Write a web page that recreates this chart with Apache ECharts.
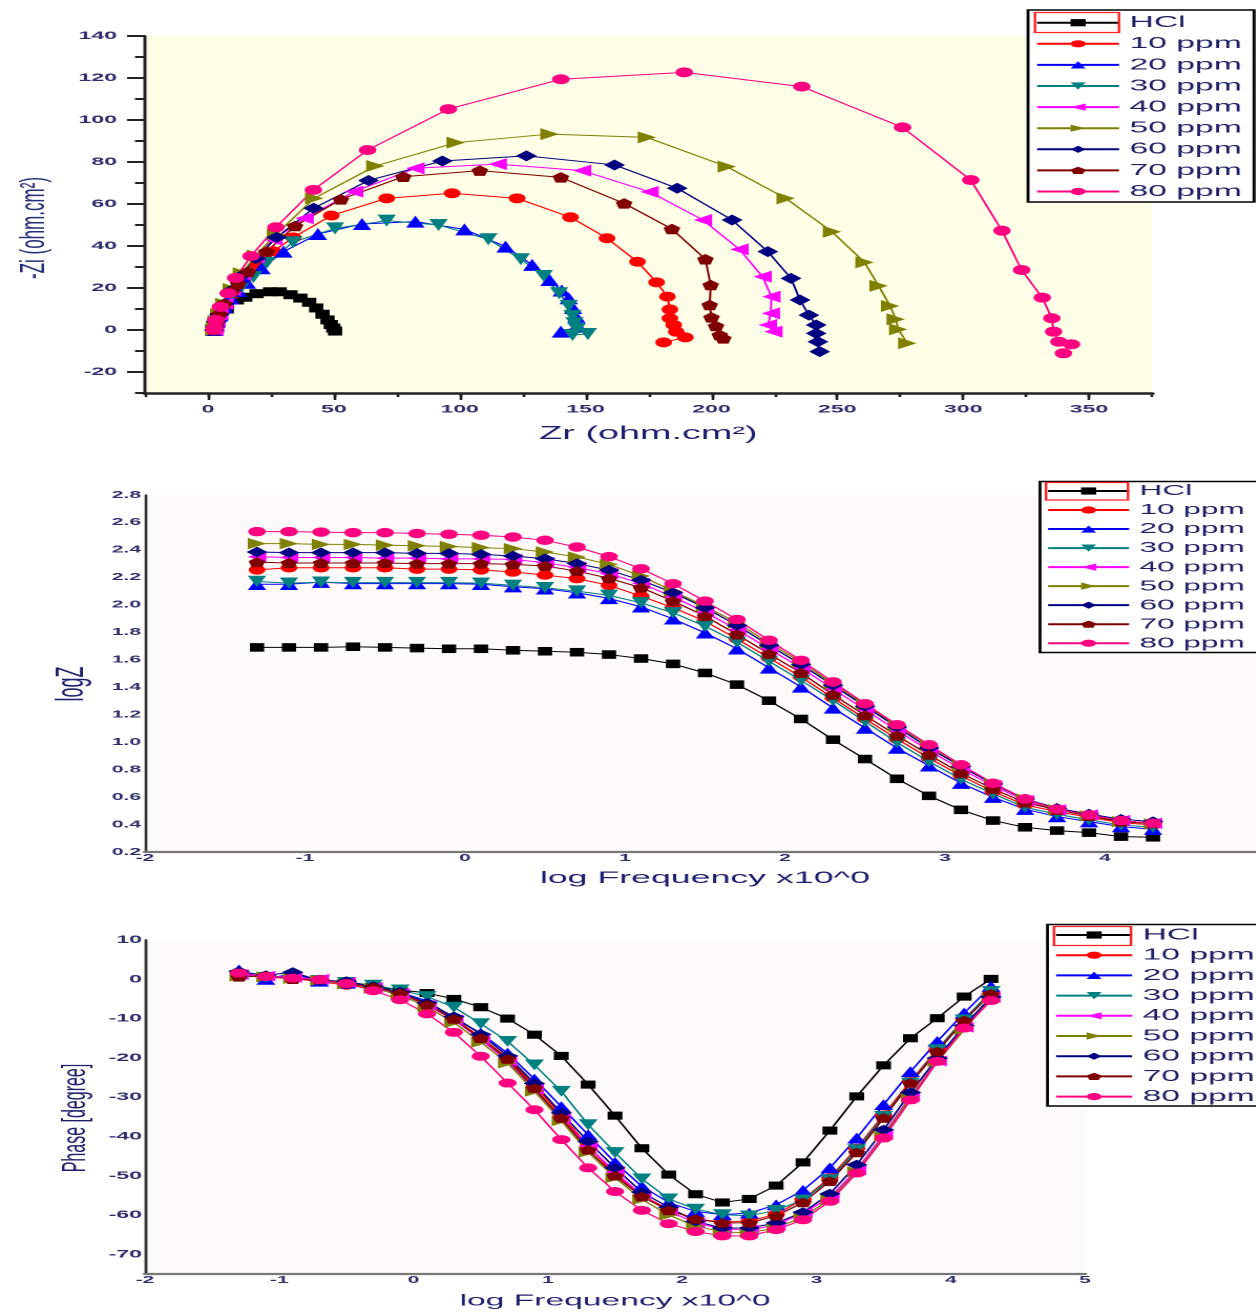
<!DOCTYPE html>
<html>
<head>
<meta charset="utf-8">
<title>EIS plots</title>
<script src="https://cdn.jsdelivr.net/npm/echarts@6.0.0/dist/echarts.min.js"></script>
<style>
html,body{margin:0;padding:0;background:#ffffff;overflow:hidden;}
#chart{height:1314px;transform-origin:0 0;}
</style>
</head>
<body>
<div id="chart"></div>
<script>
// ================= DATA =================
const seriesNames = ['HCl','10 ppm','20 ppm','30 ppm','40 ppm','50 ppm','60 ppm','70 ppm','80 ppm'];

// Nyquist: [Zr, -Zi] (ohm.cm2)
const nyqHCl = [[2.5,0],[2.8,1.5],[3.5,3.5],[5,6.5],[7.5,10],[11.5,14.3],[14.8,15.6],[19.3,17.3],[24.7,18.2],[28.5,18.2],[32.8,16.8],[36.7,15.2],[40.2,13.2],[43,10.5],[45.5,7.5],[47.5,4.8],[48.8,2.6],[49.8,0.9],[50.5,-0.5]];
const nyq10 = [[2.5,0],[2.8,1.5],[3.4,4],[4.5,7],[6.5,11.5],[9.5,17],[14,24.5],[20,31],[26,37.5],[33.9,44.1],[49,54.5],[71,62.7],[97,65.1],[122.8,62.7],[144,53.7],[158.5,43.7],[170.6,32.5],[178.2,22.7],[182.5,15.9],[183.5,9.8],[183.5,5.6],[185,2.4],[186,-0.8],[189.6,-3.5],[181,-5.9]];
const nyq20 = [[2.5,0],[2.8,1.5],[3.4,4],[4.5,7],[6.5,11],[9,15],[12,18.5],[15.5,22.5],[21.3,29.4],[30,37.3],[43.7,45.7],[61.2,50.5],[82.4,51.6],[101.9,47.9],[118.2,39.7],[128.8,31],[135.7,23.8],[140.5,18.8],[143.3,15.1],[145,10.5],[146.3,6.3],[147.1,1.6],[140.2,-0.8]];
const nyq30 = [[2.5,0],[2.8,1.5],[3.4,4],[4.5,7],[6.5,11.5],[9.5,16.5],[12.7,19.5],[18,25.2],[23.3,31.9],[33.8,41.8],[50.5,48.4],[71,52.1],[91.6,50],[111.4,43.2],[124.3,33.7],[133.4,25.7],[139.5,17.5],[143.3,11.4],[144.8,6.7],[145.6,3.2],[146.5,0.5],[150.9,-1.9],[144.8,-2.4]];
const nyq40 = [[2.5,0],[2.8,1.5],[3.4,4],[4.5,7.5],[6.5,12.5],[9.5,19],[13.5,26.5],[19,34.5],[26,43],[38.4,53.2],[58.1,65.9],[82.4,77],[115.1,79],[148.6,75.9],[175.4,65.8],[196.6,52.4],[211.1,38.4],[220.3,25.4],[223.8,15.9],[223.6,7.9],[222.4,2.4],[224.6,-0.8]];
const nyq50 = [[2.5,0],[2.8,1.5],[3.4,4],[4.5,7.5],[6.5,12.5],[9.5,19.5],[13.5,27],[19,35.5],[27,45.5],[42.2,62.7],[66.5,78.1],[98.4,89.2],[135.7,93.3],[174.4,91.7],[206.1,77.8],[229.5,62.7],[247.9,46.8],[260.8,32.2],[266.4,21],[271,11.4],[273.2,5.1],[274.2,0.3],[277.8,-6.3]];
const nyq60 = [[2.5,0],[2.8,1.5],[3.4,4],[4.5,7.5],[6.5,12.5],[9.5,19],[13.5,26],[19,34],[27.3,44.1],[42,58],[63.8,71.2],[93.1,80.5],[126.5,82.9],[161.5,78.6],[186.4,67.5],[208.2,52.4],[222.4,37.3],[231.6,24.6],[235.2,14.3],[238.7,7.1],[241.6,2.4],[241.6,-1.6],[242.3,-5.6],[243,-10.3]];
const nyq70 = [[2.5,0],[2.8,1.5],[3.4,4],[4.5,7.5],[6.5,12.5],[9.5,18.5],[12,22],[16,27.8],[23.3,37.3],[34.6,49.5],[52.8,62.2],[77.6,73],[108,75.9],[140.2,72.7],[165.3,60.3],[184.3,48.1],[197.6,33.7],[199.7,21.4],[199.3,11.9],[200,6],[201.8,1.9],[203.3,-2.4],[204.7,-4]];
const nyq80 = [[2.5,0],[2.6,1],[3.1,4.8],[4.9,11],[8,17.5],[11,24.8],[17.1,35.2],[27,48.9],[41.9,66.7],[63.4,85.7],[95.5,105.2],[140.2,119.4],[189.2,122.7],[235.9,115.9],[275.9,96.5],[303,71.4],[315.4,47.3],[323.2,28.6],[331.4,15.4],[335.2,5.6],[335.9,-0.8],[338,-5.6],[343,-6.8],[339.8,-11.1]];

// Bode: log frequency
const logFreq = [-1.3,-1.1,-0.9,-0.7,-0.5,-0.3,-0.1,0.1,0.3,0.5,0.7,0.9,1.1,1.3,1.5,1.7,1.9,2.1,2.3,2.5,2.7,2.9,3.1,3.3,3.5,3.7,3.9,4.1,4.3];

// log |Z|
const logZHCl = [1.69,1.69,1.69,1.695,1.69,1.685,1.68,1.68,1.669,1.662,1.655,1.638,1.609,1.570,1.504,1.419,1.302,1.169,1.018,0.877,0.733,0.609,0.507,0.429,0.380,0.356,0.341,0.312,0.307];
const logZ10 = [2.255,2.27,2.27,2.27,2.27,2.26,2.26,2.255,2.239,2.217,2.191,2.142,2.064,1.979,1.881,1.752,1.614,1.475,1.322,1.171,1.023,0.884,0.755,0.640,0.543,0.494,0.453,0.414,0.397];
const logZ20 = [2.15,2.15,2.165,2.155,2.155,2.155,2.155,2.15,2.132,2.117,2.088,2.047,1.986,1.898,1.796,1.680,1.541,1.402,1.249,1.103,0.957,0.828,0.701,0.599,0.512,0.458,0.421,0.385,0.366];
const logZ30 = [2.17,2.158,2.165,2.162,2.162,2.162,2.162,2.158,2.142,2.125,2.100,2.069,2.015,1.942,1.844,1.728,1.589,1.450,1.304,1.151,0.998,0.859,0.731,0.623,0.526,0.475,0.434,0.397,0.380];
const logZ40 = [2.35,2.345,2.345,2.345,2.34,2.34,2.335,2.335,2.331,2.307,2.271,2.227,2.156,2.059,1.947,1.820,1.680,1.541,1.388,1.236,1.085,0.939,0.804,0.682,0.574,0.507,0.470,0.429,0.409];
const logZ50 = [2.446,2.446,2.44,2.44,2.435,2.43,2.425,2.417,2.409,2.385,2.348,2.295,2.210,2.100,1.990,1.869,1.723,1.582,1.426,1.273,1.120,0.974,0.828,0.696,0.585,0.507,0.463,0.421,0.404];
const logZ60 = [2.385,2.38,2.38,2.38,2.38,2.375,2.375,2.368,2.356,2.336,2.300,2.253,2.180,2.088,1.979,1.850,1.706,1.565,1.414,1.261,1.110,0.957,0.823,0.696,0.587,0.519,0.477,0.439,0.421];
const logZ70 = [2.31,2.305,2.305,2.305,2.305,2.30,2.30,2.30,2.295,2.283,2.246,2.193,2.125,2.027,1.918,1.784,1.643,1.504,1.346,1.195,1.047,0.908,0.774,0.660,0.560,0.507,0.463,0.421,0.409];
const logZ80 = [2.533,2.533,2.53,2.526,2.526,2.52,2.514,2.507,2.494,2.470,2.421,2.351,2.263,2.154,2.027,1.893,1.742,1.596,1.439,1.280,1.127,0.981,0.835,0.701,0.587,0.512,0.470,0.429,0.409];

// Phase (degree)
const phaseHCl = [1.0,0.8,0.5,0,-0.8,-1.8,-2.7,-3.5,-5.0,-7.1,-10.0,-14.1,-19.5,-26.8,-34.7,-43.0,-49.7,-54.7,-56.8,-55.9,-52.5,-46.6,-38.5,-29.8,-21.9,-15.0,-9.9,-4.4,0.1];
const phase10 = [1.0,0.5,0.2,-0.6,-1.5,-2.2,-3.6,-6.3,-10,-14.8,-20,-27,-34.5,-42.5,-49.5,-55,-58.5,-61,-61.8,-61.5,-59.8,-56,-50.5,-43,-34.5,-26,-17.8,-10.2,-3.3];
const phase20 = [2.4,0.0,1.5,-0.5,-1.0,-2.0,-3.3,-5.5,-9.9,-13.7,-18.8,-25.4,-32.4,-39.6,-46.6,-52.7,-56.8,-59.1,-59.9,-59.5,-57.4,-53.7,-48.0,-40.4,-31.9,-23.5,-15.8,-8.6,-1.8];
const phase30 = [1.0,0.5,0.3,-0.3,-0.8,-1.5,-2.7,-4.4,-7.1,-11.3,-15.8,-21.8,-28.5,-37.0,-44.1,-50.8,-55.9,-58.5,-59.9,-60.2,-58.8,-56.1,-51.0,-43.4,-34.9,-26.4,-17.9,-10.3,-3.1];
const phase40 = [1.2,0.8,0.5,0,-0.8,-2.1,-3.6,-6.6,-10.3,-15.3,-20.8,-28.0,-35.5,-42.5,-49,-55,-59,-62,-63.5,-63.8,-62.5,-59.5,-55.5,-48.5,-39.5,-29.8,-20.8,-12.2,-4.6];
const phase50 = [0.8,0.6,0.2,-0.3,-1.2,-2.3,-4,-7,-11,-16,-21.3,-28.5,-36,-44,-50.5,-56,-60,-62.8,-64.3,-64.5,-63.3,-60.5,-56,-49,-40,-30,-21,-12.8,-4.8];
const phase60 = [2.0,1.0,1.8,-0.3,-0.5,-1.8,-3.2,-6.0,-9.5,-14.0,-19.5,-26.5,-34.0,-41.3,-48.0,-54.2,-58.0,-61.6,-63.3,-63.3,-62.0,-59.3,-54.6,-47.2,-38.3,-28.8,-20.1,-11.8,-4.5];
const phase70 = [0.6,0.9,0.0,-0.1,-1.0,-2.0,-3.5,-6.5,-10.1,-15.0,-20.3,-27.7,-35.3,-43.4,-50.0,-55.3,-58.8,-61.0,-62.0,-62.0,-60.2,-56.8,-51.4,-44.1,-35.3,-26.4,-18.4,-10.5,-3.7];
const phase80 = [1.6,0.7,0.3,-0.1,-1.1,-2.9,-5.2,-8.8,-13.5,-19.6,-26.4,-33.2,-40.8,-48.0,-54.0,-58.8,-62.2,-64.2,-65.3,-65.3,-63.7,-61.2,-56.5,-49.3,-40.4,-30.7,-20.9,-12.4,-5.4];

const nyqData = [nyqHCl,nyq10,nyq20,nyq30,nyq40,nyq50,nyq60,nyq70,nyq80];
const logZData = [logZHCl,logZ10,logZ20,logZ30,logZ40,logZ50,logZ60,logZ70,logZ80];
const phaseData = [phaseHCl,phase10,phase20,phase30,phase40,phase50,phase60,phase70,phase80];

// ================= STYLE =================
const colors = ['#000000','#FF0000','#0000FF','#008080','#FF00FF','#808000','#000080','#800000','#FF0080'];
const TRI_DOWN = 'path://M0,0L10,0L5,9Z';
const TRI_LEFT = 'path://M9,0L9,10L0,5Z';
const TRI_RIGHT = 'path://M0,0L9,5L0,10Z';
const PENT = 'path://M5,0L10,3.6L8.1,9.5L1.9,9.5L0,3.6Z';
const symbols = ['rect','circle','triangle',TRI_DOWN,TRI_LEFT,TRI_RIGHT,'diamond',PENT,'circle'];
const symScale = [[0.85,0.9],[1,1],[1.1,1.2],[1.1,1.2],[1.1,1.2],[1.1,1.2],[1.25,1.1],[1,1.05],[1.05,1]];

const SX = 2.1;                 // the reference figure is stretched horizontally
const W = 1256 / SX;
const X = v => v / SX;          // reference pixel x -> logical x

const dom = document.getElementById('chart');
dom.style.width = W + 'px';
dom.style.transform = 'scaleX(' + SX + ')';
const chart = echarts.init(dom, null, {renderer:'canvas', devicePixelRatio: 2});

const FONT = 'Liberation Sans';
const LBL = '#2d2d6d';
const TTL = '#1e1e6e';

function sz(i, base){ return [base[0]*symScale[i][0], base[1]*symScale[i][1]]; }

const series = [];
seriesNames.forEach((n,i)=>{
  series.push({type:'line', name:n, xAxisIndex:0, yAxisIndex:0, data:nyqData[i],
    symbol:symbols[i], symbolSize:sz(i,[8,10]), lineStyle:{color:colors[i], width:1},
    itemStyle:{color:colors[i]}, emphasis:{disabled:true}, animation:false});
});
seriesNames.forEach((n,i)=>{
  series.push({type:'line', name:n, xAxisIndex:3, yAxisIndex:3,
    data:logFreq.map((f,j)=>[f, logZData[i][j]]),
    symbol:symbols[i], symbolSize:sz(i,[8,9.5]), lineStyle:{color:colors[i], width:1},
    itemStyle:{color:colors[i]}, emphasis:{disabled:true}, animation:false});
});
seriesNames.forEach((n,i)=>{
  series.push({type:'line', name:n, xAxisIndex:4, yAxisIndex:4,
    data:logFreq.map((f,j)=>[f, phaseData[i][j]]),
    symbol:symbols[i], symbolSize:sz(i,[8.3,9]), lineStyle:{color:colors[i], width:1},
    itemStyle:{color:colors[i]}, emphasis:{disabled:true}, animation:false});
});

function legend(left, top, itemWidth, gap, fontSize){
  return {data:seriesNames, orient:'vertical', left:left, top:top, itemWidth:itemWidth, itemHeight:9,
    itemGap:gap, padding:0, selectedMode:false, z:20,
    textStyle:{fontFamily:FONT, fontSize:fontSize, color:'#1f1f66', lineHeight:16}};
}

const lblStyle = (size)=>({fontFamily:FONT, fontSize:size, fontWeight:'bold', color:LBL});
const hidden = (g)=>({gridIndex:g, type:'value', show:false, min:0, max:1});

const option = {
  animation:false,
  backgroundColor:'#ffffff',
  grid:[
    {left:X(145), top:36, width:X(1007), height:357, show:true, backgroundColor:'#FFFEE6', borderWidth:0, outerBoundsMode:'none'},
    {left:X(207.9), top:36, width:X(881.1), height:357, show:false, outerBoundsMode:'none'},
    {left:X(145), top:36, width:X(1007), height:336, show:false, outerBoundsMode:'none'},
    {left:X(145), top:495, width:X(1120), height:357, show:true, backgroundColor:'#FFFAFA', borderWidth:0, outerBoundsMode:'none'},
    {left:X(145), top:940, width:X(940), height:334, show:true, backgroundColor:'#FFFAFA', borderWidth:0, outerBoundsMode:'none'}
  ],
  xAxis:[
    {gridIndex:0, type:'value', min:-25, max:375, interval:25,
      axisLine:{show:true, onZero:false, lineStyle:{color:'#222', width:2.6}},
      axisTick:{show:true, length:4, lineStyle:{color:'#222', width:1.3}},
      axisLabel:{show:false}, splitLine:{show:false}},
    {gridIndex:1, type:'value', min:0, max:350, interval:50,
      axisLine:{show:false, onZero:false},
      axisTick:{show:true, length:7, lineStyle:{color:'#222', width:1.3}},
      axisLabel:Object.assign({margin:11}, lblStyle(11)), splitLine:{show:false},
      name:'Zr (ohm.cm²)', nameLocation:'middle', nameGap:32,
      nameTextStyle:{fontFamily:FONT, fontSize:18, color:TTL}},
    hidden(2),
    {gridIndex:3, type:'value', min:-2, max:5, interval:1,
      axisLine:{show:true, onZero:false, lineStyle:{color:'#777', width:2.3}},
      axisTick:{show:false}, axisLabel:Object.assign({margin:1}, lblStyle(10)), splitLine:{show:false},
      name:'log Frequency x10^0', nameLocation:'middle', nameGap:18,
      nameTextStyle:{fontFamily:FONT, fontSize:17, color:TTL}},
    {gridIndex:4, type:'value', min:-2, max:5, interval:1,
      axisLine:{show:true, onZero:false, lineStyle:{color:'#777', width:2.3}},
      axisTick:{show:false}, axisLabel:Object.assign({margin:1}, lblStyle(10)), splitLine:{show:false},
      name:'log Frequency x10^0', nameLocation:'middle', nameGap:19,
      nameTextStyle:{fontFamily:FONT, fontSize:16, color:TTL}}
  ],
  yAxis:[
    {gridIndex:0, type:'value', min:-30, max:140, interval:10,
      axisLine:{show:true, onZero:false, lineStyle:{color:'#222', width:1.5}},
      axisTick:{show:true, length:X(10), lineStyle:{color:'#222', width:2}},
      axisLabel:{show:false}, splitLine:{show:false}},
    hidden(1),
    {gridIndex:2, type:'value', min:-20, max:140, interval:20,
      axisLine:{show:false, onZero:false},
      axisTick:{show:true, length:X(18), lineStyle:{color:'#222', width:2}},
      axisLabel:Object.assign({margin:X(28)}, lblStyle(11)), splitLine:{show:false}},
    {gridIndex:3, type:'value', min:0.2, max:2.8, interval:0.2,
      axisLine:{show:true, onZero:false, lineStyle:{color:'#333', width:1.3}},
      axisTick:{show:false},
      axisLabel:Object.assign({margin:X(4), formatter:v=>v.toFixed(1)}, lblStyle(10)), splitLine:{show:false}},
    {gridIndex:4, type:'value', min:-75, max:10, interval:5,
      axisLine:{show:true, onZero:false, lineStyle:{color:'#333', width:1.4}},
      axisTick:{show:false},
      axisLabel:Object.assign({margin:X(3), formatter:v=>(Math.round(v)%10===0 ? String(Math.round(v)) : '')}, lblStyle(11)), splitLine:{show:false}}
  ],
  legend:[
    legend(X(1035), 14.7, X(82), 5.1, 16),
    legend(X(1046), 483, X(81), 3.03, 15),
    legend(X(1054), 927, X(76), 4.2, 16)
  ],
  graphic:{elements:[
    {type:'rect', z:10, shape:{x:X(1028), y:10, width:X(226), height:192}, style:{fill:'#ffffff', stroke:'#000000', lineWidth:1.4}},
    {type:'rect', z:10, shape:{x:X(1040), y:481.5, width:X(240), height:171}, style:{fill:'#ffffff', stroke:'#000000', lineWidth:1.4}},
    {type:'rect', z:10, shape:{x:X(1047.5), y:924.5, width:X(230), height:181.5}, style:{fill:'#ffffff', stroke:'#000000', lineWidth:1.4}},
    {type:'rect', z:30, shape:{x:X(1035), y:12.5, width:X(84), height:20}, style:{fill:'rgba(0,0,0,0)', stroke:'#ff2020', lineWidth:1.2}},
    {type:'rect', z:30, shape:{x:X(1046), y:482.5, width:X(82), height:17.5}, style:{fill:'rgba(0,0,0,0)', stroke:'#ff2020', lineWidth:1.2}},
    {type:'rect', z:30, shape:{x:X(1054), y:926.5, width:X(77), height:19}, style:{fill:'rgba(0,0,0,0)', stroke:'#ff2020', lineWidth:1.2}},
    {type:'text', z:30, x:X(34), y:228, rotation:Math.PI/2,
      style:{text:'-Zi (ohm.cm²)', fontFamily:FONT, fontSize:17, fill:'#22307a', align:'center', verticalAlign:'middle'}},
    {type:'text', z:30, x:X(73), y:684, rotation:Math.PI/2,
      style:{text:'logZ', fontFamily:FONT, fontSize:18, fill:TTL, align:'center', verticalAlign:'middle'}},
    {type:'text', z:30, x:X(76), y:1118, rotation:Math.PI/2,
      style:{text:'Phase [degree]', fontFamily:FONT, fontSize:16, fill:TTL, align:'center', verticalAlign:'middle'}}
  ]},
  series:series
};
chart.setOption(option);
</script>
</body>
</html>
